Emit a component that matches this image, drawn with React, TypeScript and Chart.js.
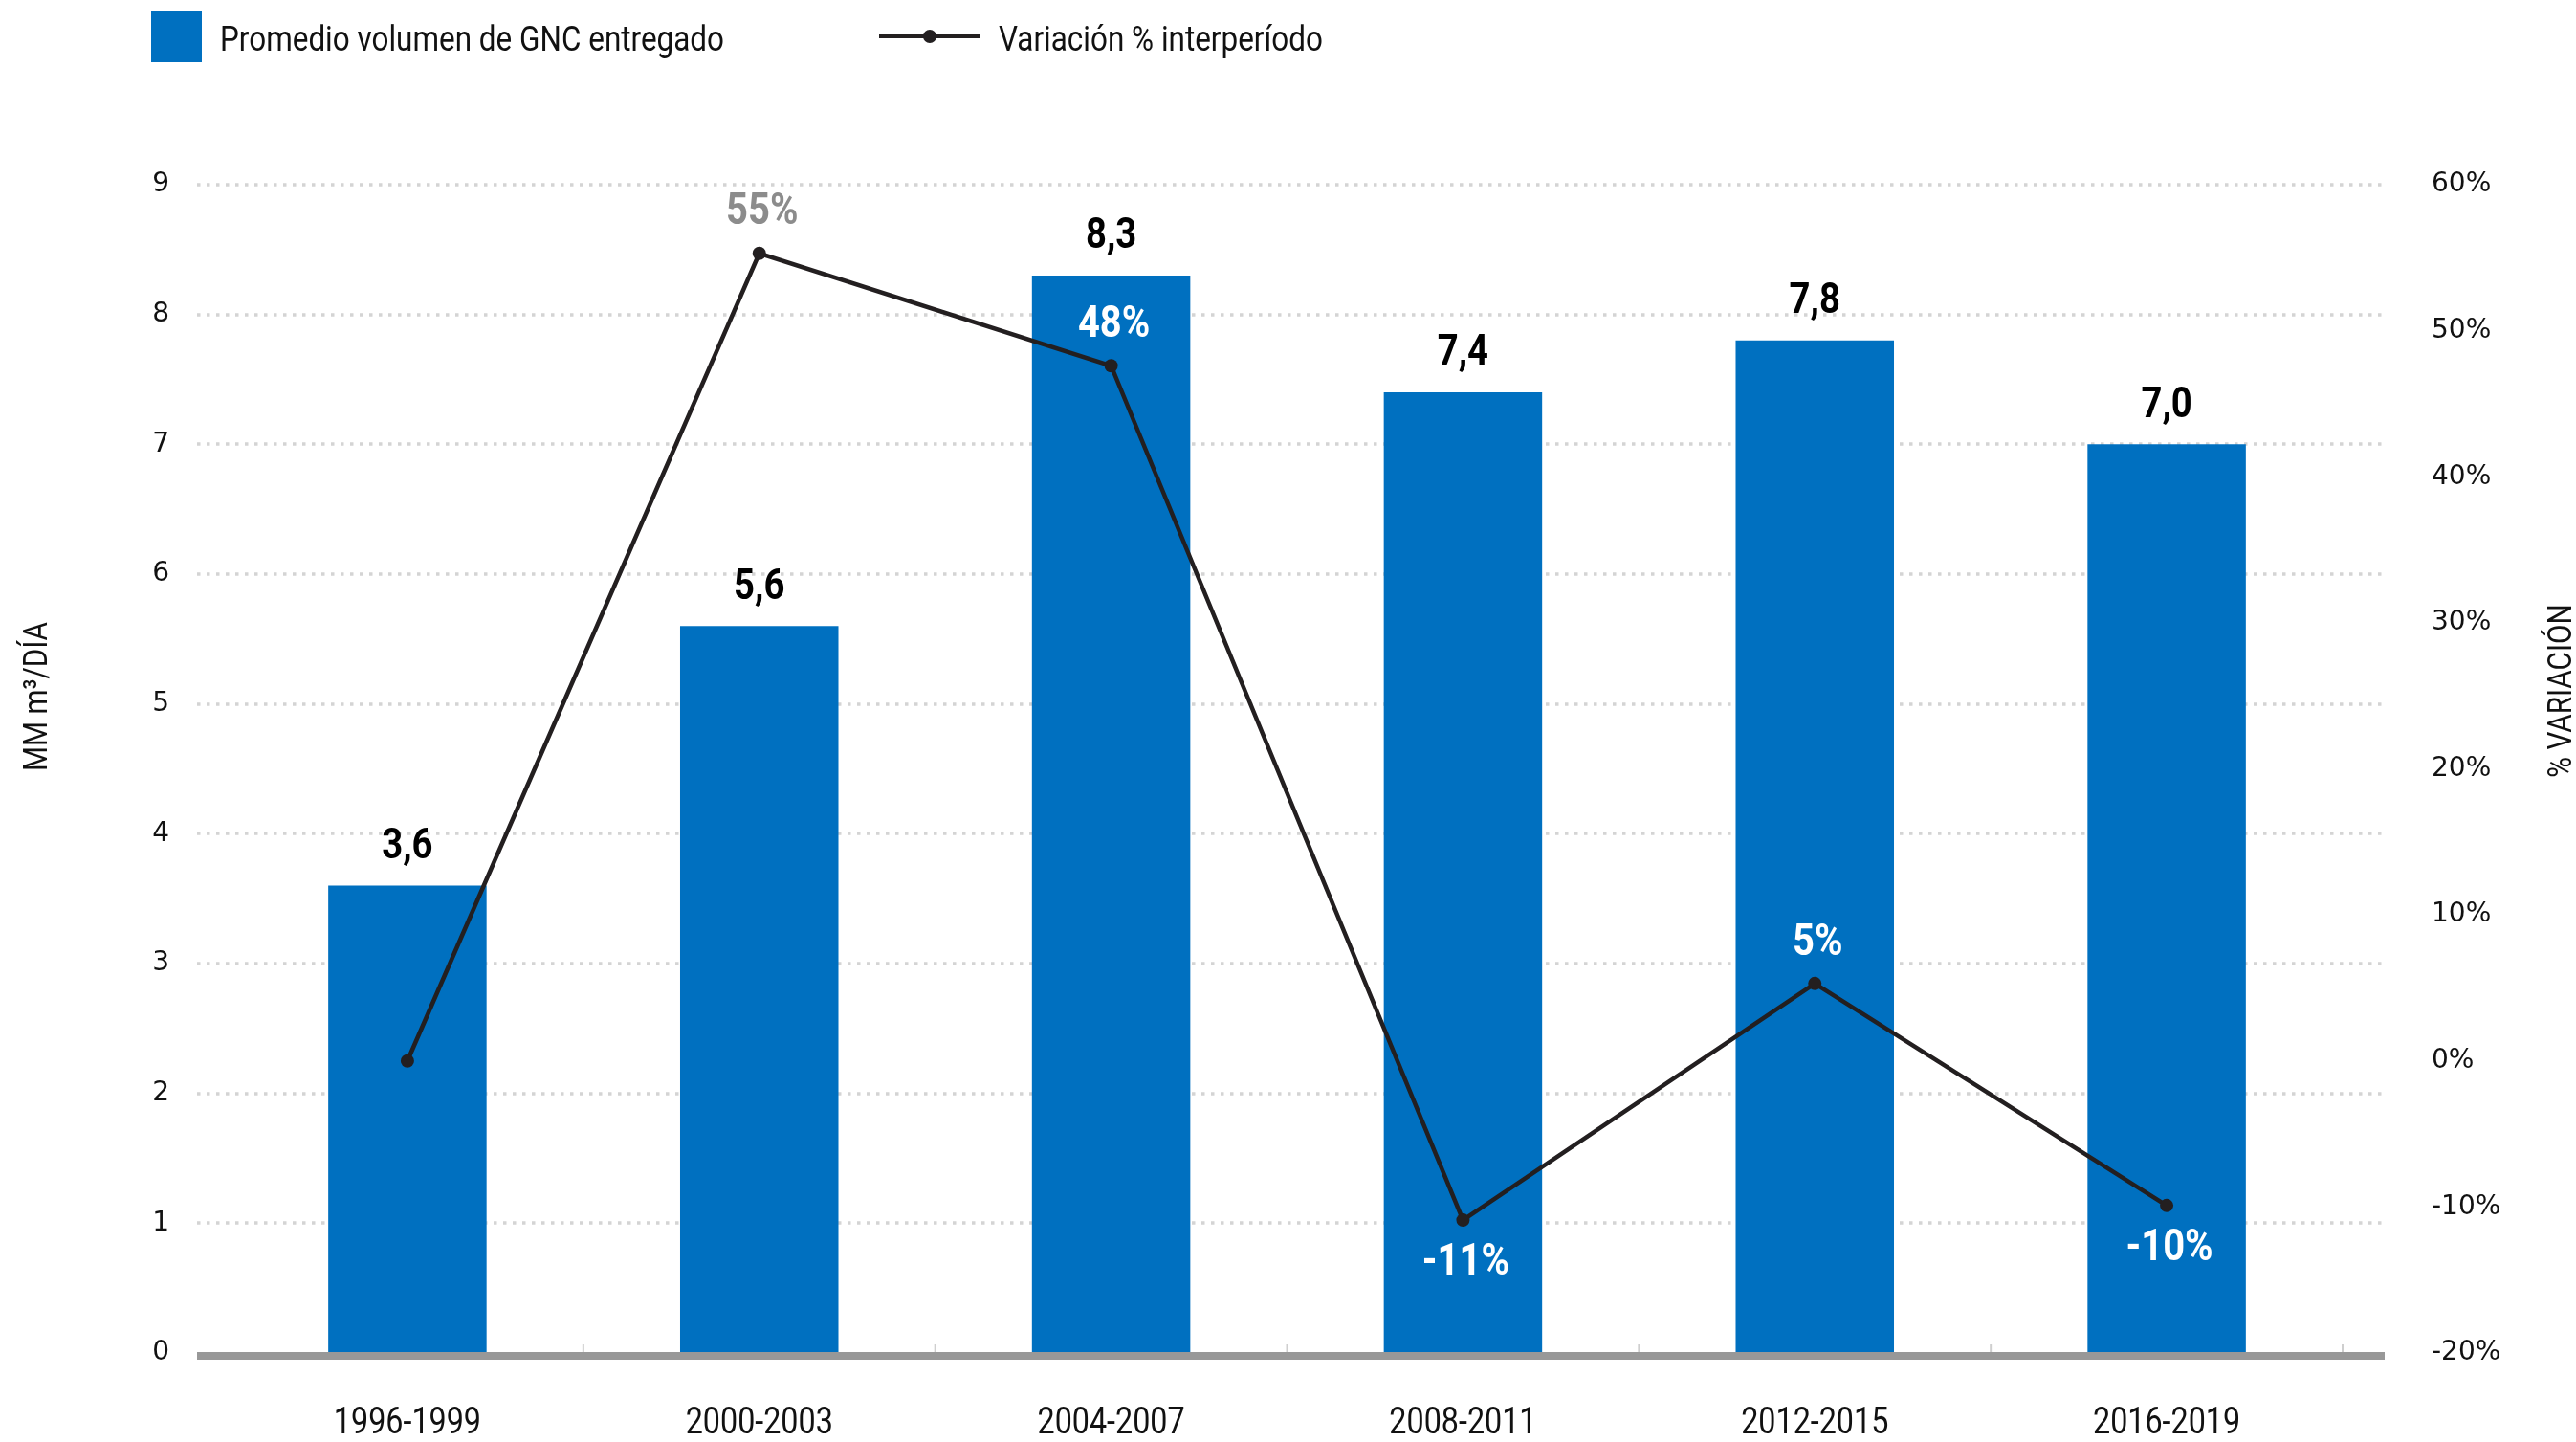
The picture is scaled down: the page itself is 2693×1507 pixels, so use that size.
import React, { useEffect, useRef } from "react";
import { Chart, registerables } from "chart.js";

Chart.register(...registerables);

const categories = ["1996-1999", "2000-2003", "2004-2007", "2008-2011", "2012-2015", "2016-2019"];
const volumeValues = [3.6, 5.6, 8.3, 7.4, 7.8, 7.0];
const volumeLabels = ["3,6", "5,6", "8,3", "7,4", "7,8", "7,0"];
const variationValues = [0, 55.3, 47.6, -10.9, 5.3, -9.9];
const variationLabels = ["", "55%", "48%", "-11%", "5%", "-10%"];
const variationPlacement = ["none", "above", "above", "below", "above", "below"];
const variationLabelColors = ["", "#8c8c8c", "#ffffff", "#ffffff", "#ffffff", "#ffffff"];

const BLUE = "#0070c0";
const LINE = "#231f20";
const FONT = "Roboto, sans-serif";
const SQUEEZE = 0.85;

function narrowText(ctx: any, text: string, x: number, y: number, font: string, color: string, rotate = 0) {
  ctx.save();
  ctx.font = font;
  ctx.fillStyle = color;
  ctx.textAlign = "center";
  ctx.textBaseline = "middle";
  ctx.translate(x, y);
  if (rotate) ctx.rotate(rotate);
  ctx.scale(SQUEEZE, 1);
  ctx.fillText(text, 0, 0);
  ctx.restore();
}

const overlayPlugin = {
  id: "overlay",
  beforeDatasetsDraw(chart: any) {
    const { ctx, chartArea } = chart;
    const y = chart.scales.y;
    const x0 = chartArea.left - 36;
    const x1 = chartArea.right + 43;
    ctx.save();
    ctx.strokeStyle = "#d4d4d4";
    ctx.lineWidth = 3.5;
    ctx.setLineDash([3.5, 6.5]);
    for (let v = 1; v <= 9; v++) {
      const py = Math.round(y.getPixelForValue(v));
      ctx.beginPath();
      ctx.moveTo(x0, py);
      ctx.lineTo(x1, py);
      ctx.stroke();
    }
    ctx.restore();
  },
  afterDatasetsDraw(chart: any) {
    const { ctx, chartArea } = chart;
    const y = chart.scales.y;
    const x = chart.scales.x;
    const base = y.getPixelForValue(0);
    ctx.save();
    // category boundary ticks
    ctx.strokeStyle = "#cfcfcf";
    ctx.lineWidth = 2;
    for (let i = 0; i < categories.length; i++) {
      const px = i < categories.length - 1
        ? (x.getPixelForValue(i) + x.getPixelForValue(i + 1)) / 2
        : chartArea.right;
      ctx.beginPath();
      ctx.moveTo(px, base - 9);
      ctx.lineTo(px, base);
      ctx.stroke();
    }
    // baseline
    ctx.fillStyle = "#989898";
    ctx.fillRect(chartArea.left - 36, base - 1, chartArea.right - chartArea.left + 80, 8);
    ctx.restore();

    // category labels
    categories.forEach((c, i) => {
      narrowText(ctx, c, x.getPixelForValue(i), base + 74, `38px ${FONT}`, "#111111");
    });

    // bar value labels
    const barMeta = chart.getDatasetMeta(0);
    barMeta.data.forEach((el: any, i: number) => {
      narrowText(ctx, volumeLabels[i], el.x, el.y - 40, `bold 45px ${FONT}`, "#000000");
    });
    // variation labels
    const lineMeta = chart.getDatasetMeta(1);
    lineMeta.data.forEach((el: any, i: number) => {
      const place = variationPlacement[i];
      if (place === "none") return;
      const dy = place === "above" ? -42 : 45;
      narrowText(ctx, variationLabels[i], el.x + 3, el.y + dy, `bold 47px ${FONT}`, variationLabelColors[i]);
    });

    // axis titles
    narrowText(ctx, "MM m³/DÍA", 40, 728, `35px ${FONT}`, "#111111", -Math.PI / 2);
    narrowText(ctx, "% VARIACIÓN", 2679, 722, `35px ${FONT}`, "#111111", -Math.PI / 2);
  },
};

export default function App() {
  const ref = useRef<HTMLCanvasElement | null>(null);

  useEffect(() => {
    if (!ref.current) return;
    const chart = new Chart(ref.current, {
      type: "bar",
      data: {
        labels: categories,
        datasets: [
          {
            type: "bar",
            label: "Promedio volumen de GNC entregado",
            data: volumeValues,
            backgroundColor: BLUE,
            borderWidth: 0,
            barPercentage: 0.45,
            categoryPercentage: 1,
            yAxisID: "y",
            order: 2,
          },
          {
            type: "line",
            label: "Variación % interperíodo",
            data: variationValues,
            borderColor: LINE,
            backgroundColor: LINE,
            borderWidth: 4.5,
            pointRadius: 7,
            pointBackgroundColor: LINE,
            pointBorderWidth: 0,
            tension: 0,
            yAxisID: "y1",
            order: 1,
          } as any,
        ],
      },
      options: {
        responsive: false,
        animation: false,
        layout: { padding: { top: 193, left: 0, right: 0, bottom: 0 } },
        plugins: {
          legend: { display: false },
          tooltip: { enabled: false },
        },
        scales: {
          x: {
            grid: { display: false, drawTicks: false },
            border: { display: false },
            ticks: { display: false },
            afterFit(scale: any) {
              scale.height = 93;
            },
          },
          y: {
            position: "left",
            min: 0,
            max: 9,
            grid: { display: false, drawTicks: false },
            border: { display: false },
            ticks: {
              stepSize: 1,
              padding: 65,
              color: "#111111",
              font: { family: '"DejaVu Sans", sans-serif', size: 28 },
            },
            afterFit(scale: any) {
              scale.width = 242;
              scale.paddingTop = 0;
              scale.paddingBottom = 0;
            },
          },
          y1: {
            position: "right",
            min: -20,
            max: 60,
            grid: { display: false, drawTicks: false },
            border: { display: false },
            ticks: {
              stepSize: 10,
              padding: 93,
              color: "#111111",
              font: { family: '"DejaVu Sans", sans-serif', size: 28 },
              callback: (v: any) => `${v}%`,
            },
            afterFit(scale: any) {
              scale.width = 244;
              scale.paddingTop = 0;
              scale.paddingBottom = 0;
            },
          },
        },
      },
      plugins: [overlayPlugin],
    });
    return () => chart.destroy();
  }, []);

  const legendText: React.CSSProperties = {
    position: "absolute",
    fontFamily: FONT,
    fontSize: 37,
    color: "#111111",
    lineHeight: "1",
    whiteSpace: "nowrap",
    transform: `scaleX(${SQUEEZE})`,
    transformOrigin: "left center",
  };

  return (
    <div style={{ position: "fixed", left: 0, top: 0, width: 2693, height: 1507, background: "#ffffff" }}>
      <canvas ref={ref} width={2693} height={1507} style={{ position: "absolute", left: 0, top: 0 }} />
      <div style={{ position: "absolute", left: 158, top: 12, width: 53, height: 53, background: BLUE }} />
      <span style={{ ...legendText, left: 230, top: 22 }}>Promedio volumen de GNC entregado</span>
      <div style={{ position: "absolute", left: 919, top: 36, width: 106, height: 4, background: LINE }} />
      <div style={{ position: "absolute", left: 965, top: 31, width: 14, height: 14, borderRadius: "50%", background: LINE }} />
      <span style={{ ...legendText, left: 1044, top: 22 }}>Variación % interperíodo</span>
    </div>
  );
}
